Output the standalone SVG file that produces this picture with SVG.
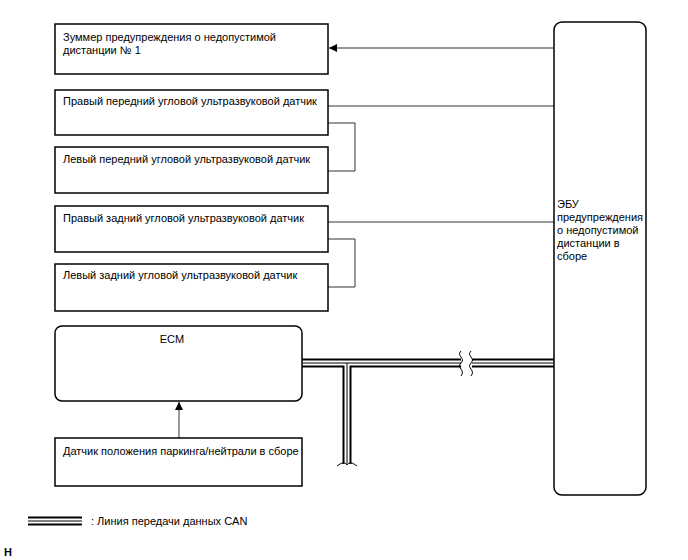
<svg xmlns="http://www.w3.org/2000/svg" width="688" height="560" viewBox="0 0 688 560">
<defs>
<marker id="arr" viewBox="0 0 10 10" refX="10" refY="5" markerWidth="10" markerHeight="8" markerUnits="userSpaceOnUse" orient="auto">
<path d="M0,0 L10,5 L0,10 z" fill="#000"/>
</marker>
</defs>
<style>
.box{fill:#fff;stroke:#000;stroke-width:1.5}
.t{font-family:"Liberation Sans",Arial,sans-serif;font-size:11px;fill:#000}
.ln{fill:none;stroke:#333;stroke-width:1}
.b1{fill:none;stroke:#000;stroke-width:9}
.b2{fill:none;stroke:#fff;stroke-width:5}
.b3{fill:none;stroke:#000;stroke-width:1}
</style>
<rect width="688" height="560" fill="#fff"/>
<g id="connectors">
<line class="ln" x1="554" y1="48" x2="329" y2="48" marker-end="url(#arr)"/>
<line class="ln" x1="328" y1="106" x2="554" y2="106"/>
<polyline class="ln" points="328,123 355,123 355,171 328,171"/>
<line class="ln" x1="328" y1="222" x2="554" y2="222"/>
<polyline class="ln" points="328,239 355,239 355,287 328,287"/>
<line class="ln" x1="179" y1="438" x2="179" y2="402" marker-end="url(#arr)"/>
<g id="can-bus">
<path class="b1" d="M302,363 H554 M347,363 V464"/>
<path class="b2" d="M302,363 H554 M347,363 V464"/>
<path class="b3" d="M302,363 H554 M347,363 V464"/>
<rect x="461" y="356" width="11" height="15" fill="#fff"/>
<path d="M461,351 C456,356 466,358 461,363 C456,368 466,370 461,376" fill="none" stroke="#000" stroke-width="1"/>
<path d="M471,351 C466,356 476,358 471,363 C466,368 476,370 471,376" fill="none" stroke="#000" stroke-width="1"/>
<rect x="340" y="465" width="14" height="6" fill="#fff"/>
<path d="M337,466 C342,462 345,462 347,465 C349,462 352,462 357,466" fill="none" stroke="#000" stroke-width="1"/>
</g>
</g>
<g id="buzzer">
<rect class="box" x="55" y="24" width="273" height="50"/>
<text class="t" x="63" y="41">Зуммер предупреждения о недопустимой</text>
<text class="t" x="63" y="54">дистанции № 1</text>
</g>
<g id="fr-sensor">
<rect class="box" x="55" y="90" width="273" height="45"/>
<text class="t" x="63" y="105">Правый передний угловой ультразвуковой датчик</text>
</g>
<g id="fl-sensor">
<rect class="box" x="55" y="147" width="273" height="46"/>
<text class="t" x="63" y="163">Левый передний угловой ультразвуковой датчик</text>
</g>
<g id="rr-sensor">
<rect class="box" x="55" y="206" width="273" height="46"/>
<text class="t" x="63" y="222">Правый задний угловой ультразвуковой датчик</text>
</g>
<g id="rl-sensor">
<rect class="box" x="55" y="264" width="273" height="47"/>
<text class="t" x="63" y="279">Левый задний угловой ультразвуковой датчик</text>
</g>
<g id="ecm">
<rect class="box" x="55" y="326" width="247" height="75" rx="7"/>
<text class="t" x="172" y="343" text-anchor="middle">ECM</text>
</g>
<g id="pn-sensor">
<rect class="box" x="55" y="438" width="247" height="48"/>
<text class="t" x="63" y="455">Датчик положения паркинга/нейтрали в сборе</text>
</g>
<g id="ecu">
<rect class="box" x="554" y="22" width="92" height="473" rx="8"/>
<text class="t" x="557" y="208">ЭБУ</text>
<text class="t" x="557" y="221">предупреждения</text>
<text class="t" x="557" y="234">о недопустимой</text>
<text class="t" x="557" y="247">дистанции в</text>
<text class="t" x="557" y="260">сборе</text>
</g>
<g id="legend">
<path class="b1" d="M28,521 H82"/>
<path class="b2" d="M28,521 H82"/>
<path class="b3" d="M28,521 H82"/>
<text class="t" x="91" y="525">: Линия передачи данных CAN</text>
<text class="t" x="4" y="556" font-weight="bold">H</text>
</g>
</svg>
